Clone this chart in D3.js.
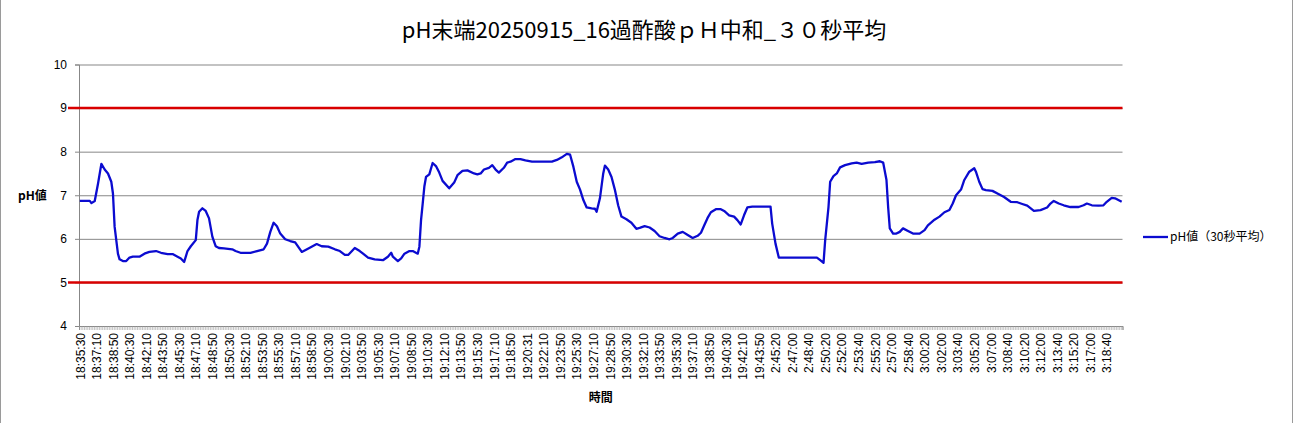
<!DOCTYPE html>
<html>
<head>
<meta charset="utf-8">
<script src="https://cdn.jsdelivr.net/npm/d3@7"></script>
<style>
  body { margin: 0; background: #fff; }
  text { font-family: "Liberation Sans", "Noto Sans CJK JP", sans-serif; }
</style>
</head>
<body>
<div id="chart"></div>
<script>
// chart values
var chartTitle = "pH末端20250915_16過酢酸ｐＨ中和_３０秒平均";
var seriesName = "pH値（30秒平均）";
var nCat = 630;          // number of 10 s categories
var labelStep = 10;      // a label every 10 categories
var tickLabels = [
  "18:35:30","18:37:10","18:38:50","18:40:30","18:42:10","18:43:50","18:45:30","18:47:10",
  "18:48:50","18:50:30","18:52:10","18:53:50","18:55:30","18:57:10","18:58:50","19:00:30",
  "19:02:10","19:03:50","19:05:30","19:07:10","19:08:50","19:10:30","19:12:10","19:13:50",
  "19:15:30","19:17:10","19:18:50","19:20:31","19:22:10","19:23:50","19:25:30","19:27:10",
  "19:28:50","19:30:30","19:32:10","19:33:50","19:35:30","19:37:10","19:38:50","19:40:30",
  "19:42:10","19:43:50","2:45:20","2:47:00","2:48:40","2:50:20","2:52:00","2:53:40",
  "2:55:20","2:57:00","2:58:40","3:00:20","3:02:00","3:03:40","3:05:20","3:07:00",
  "3:08:40","3:10:20","3:12:00","3:13:40","3:15:20","3:17:00","3:18:40"
];
var yTicks = [4, 5, 6, 7, 8, 9, 10];
var limitLines = [9, 5];

// category index of each read point, and the pH value there
var phIdx = [
  0,6,7,9,11,13,15,17,19,20,21,23,24,26,28,30,32,36,39,42,46,49,53,56,59,61,63,65,67,70,
  71,72,74,76,78,80,82,84,87,92,94,97,103,107,111,113,115,117,119,121,124,127,130,134,138,
  143,146,150,154,157,160,162,166,169,171,174,178,183,186,188,189,192,194,196,199,201,204,
  205,206,207,208,209,211,213,215,217,219,223,226,228,231,234,238,240,242,244,247,249,251,
  253,256,258,260,263,266,269,273,279,285,288,291,294,296,298,300,302,304,306,309,311,312,
  314,316,317,319,321,323,325,327,330,333,336,338,341,344,347,350,353,356,358,361,364,367,
  370,373,375,377,379,381,384,387,389,392,395,397,399,401,403,406,417,418,420,422,445,447,
  449,450,452,453,455,457,459,462,466,469,472,476,480,483,485,487,488,489,491,493,495,497,
  500,503,507,510,512,516,519,522,525,527,529,532,534,537,540,541,543,545,547,551,554,558,
  562,566,569,572,576,580,584,586,588,591,594,598,603,606,608,611,615,618,620,623,625,629
];
var phVal = [
  6.87,6.87,6.82,6.87,7.27,7.72,7.59,7.50,7.31,7.04,6.28,5.66,5.53,5.49,5.49,5.57,5.59,5.59,5.66,5.70,
  5.72,5.68,5.65,5.65,5.59,5.55,5.47,5.72,5.83,5.97,6.43,6.62,6.70,6.64,6.47,6.05,5.83,5.79,5.78,5.76,
  5.72,5.68,5.68,5.72,5.76,5.89,6.16,6.37,6.29,6.12,5.99,5.95,5.92,5.70,5.78,5.88,5.83,5.82,5.76,5.72,
  5.63,5.63,5.79,5.72,5.66,5.57,5.53,5.51,5.59,5.68,5.59,5.49,5.55,5.66,5.72,5.72,5.66,5.82,6.43,6.81,
  7.20,7.42,7.48,7.74,7.67,7.52,7.33,7.16,7.29,7.46,7.56,7.57,7.50,7.48,7.50,7.59,7.63,7.69,7.59,7.52,
  7.63,7.75,7.77,7.83,7.83,7.80,7.77,7.77,7.77,7.81,7.87,7.95,7.93,7.65,7.31,7.13,6.89,6.72,6.70,6.69,
  6.62,6.93,7.50,7.68,7.59,7.42,7.13,6.77,6.51,6.45,6.37,6.23,6.25,6.29,6.26,6.18,6.06,6.02,5.99,6.02,
  6.12,6.16,6.09,6.02,6.07,6.14,6.31,6.48,6.61,6.68,6.68,6.64,6.54,6.51,6.43,6.33,6.54,6.72,6.74,6.74,
  6.35,5.89,5.57,5.57,5.51,5.45,5.97,6.73,7.31,7.44,7.50,7.64,7.69,7.73,7.75,7.72,7.75,7.76,7.78,7.75,
  7.35,6.73,6.24,6.12,6.12,6.16,6.24,6.18,6.12,6.12,6.20,6.31,6.44,6.51,6.61,6.66,6.81,7.00,7.13,7.35,
  7.54,7.62,7.54,7.31,7.14,7.12,7.10,7.04,6.96,6.85,6.84,6.80,6.76,6.64,6.66,6.72,6.81,6.87,6.81,6.77,
  6.73,6.73,6.77,6.81,6.77,6.76,6.77,6.85,6.94,6.93,6.85
];

var data = phIdx.map(function(d, i) { return {cat: d, ph: phVal[i]}; });

// dimensions
var W = 1295, H = 423;
var plot = {left: 79, top: 64.5, right: 1122.5, bottom: 326};

var svg = d3.select("#chart").append("svg")
    .attr("width", W)
    .attr("height", H);

// chart area border
svg.append("rect")
    .attr("x", 0.5).attr("y", -2)
    .attr("width", 1292).attr("height", H + 4)
    .attr("fill", "#fff")
    .attr("stroke", "#9a9a9a");

// scales
var x = d3.scaleLinear().domain([0, nCat]).range([plot.left, plot.right]);
var y = d3.scaleLinear().domain([4, 10]).range([plot.bottom, plot.top]);

// gridlines
svg.append("g")
    .attr("transform", "translate(" + plot.left + ",0)")
    .call(d3.axisLeft(y).tickValues(yTicks).tickSize(-(plot.right - plot.left)).tickFormat(""))
    .call(function(g) { g.select(".domain").remove(); })
    .selectAll("line").attr("stroke", "#878787");

// y axis
var yAxis = svg.append("g")
    .attr("transform", "translate(" + plot.left + ",0)")
    .call(d3.axisLeft(y).tickValues(yTicks).tickSize(4).tickPadding(8).tickFormat(d3.format("d")));
yAxis.select(".domain").attr("stroke", "#878787");
yAxis.selectAll("line").attr("stroke", "#878787");
yAxis.selectAll("text")
    .style("font-size", "12px")
    .attr("fill", "#000");

// x axis tick marks (one per category)
var xAxis = svg.append("g")
    .attr("transform", "translate(0," + plot.bottom + ")")
    .call(d3.axisBottom(x).tickValues(d3.range(nCat + 1)).tickSize(4).tickFormat(""));
xAxis.select(".domain").attr("stroke", "#878787");
xAxis.selectAll("line").attr("stroke", "#9a9a9a").attr("stroke-width", 0.6);

// x axis labels, every labelStep categories
var labelCats = tickLabels.map(function(d, i) { return i * labelStep + 0.5; });
var xLab = svg.append("g")
    .attr("transform", "translate(0," + plot.bottom + ")")
    .call(d3.axisBottom(x).tickValues(labelCats).tickSize(0)
        .tickFormat(function(d, i) { return tickLabels[i]; }));
xLab.select(".domain").remove();
xLab.selectAll("text")
    .style("font-size", "12px")
    .attr("fill", "#000")
    .attr("text-anchor", "end")
    .attr("transform", "rotate(-90)")
    .attr("x", -7)
    .attr("y", 0)
    .attr("dy", "0.35em");

// limit lines
svg.selectAll(".limit")
    .data(limitLines)
  .enter().append("line")
    .attr("class", "limit")
    .attr("x1", 68)
    .attr("x2", plot.right)
    .attr("y1", function(d) { return y(d); })
    .attr("y2", function(d) { return y(d); })
    .attr("stroke", "#d90000")
    .attr("stroke-width", 2.5);

// pH line
var phLine = d3.line()
    .x(function(d) { return x(d.cat + 0.5); })
    .y(function(d) { return y(d.ph); });

svg.append("path")
    .datum(data)
    .attr("fill", "none")
    .attr("stroke", "#0b0bd0")
    .attr("stroke-width", 2.3)
    .attr("stroke-linejoin", "round")
    .attr("d", phLine);

// title
svg.append("text")
    .attr("x", 644)
    .attr("y", 38)
    .attr("text-anchor", "middle")
    .style("font-size", "22px")
    .style("font-family", "'Noto Sans CJK JP', sans-serif")
    .text(chartTitle);

// axis titles
svg.append("text")
    .attr("x", (plot.left + plot.right) / 2)
    .attr("y", 402)
    .attr("text-anchor", "middle")
    .style("font-size", "12px")
    .style("font-weight", "bold")
    .style("font-family", "'Noto Sans CJK JP', sans-serif")
    .text("時間");

svg.append("text")
    .attr("x", 18)
    .attr("y", 200)
    .style("font-size", "12px")
    .style("font-weight", "bold")
    .style("font-family", "'Noto Sans CJK JP', sans-serif")
    .text("pH値");

// legend
svg.append("line")
    .attr("x1", 1143).attr("x2", 1168)
    .attr("y1", 237).attr("y2", 237)
    .attr("stroke", "#0b0bd0")
    .attr("stroke-width", 2.3);
svg.append("text")
    .attr("x", 1170)
    .attr("y", 241)
    .style("font-size", "12px")
    .style("font-family", "'Noto Sans CJK JP', sans-serif")
    .text(seriesName);
</script>
</body>
</html>
